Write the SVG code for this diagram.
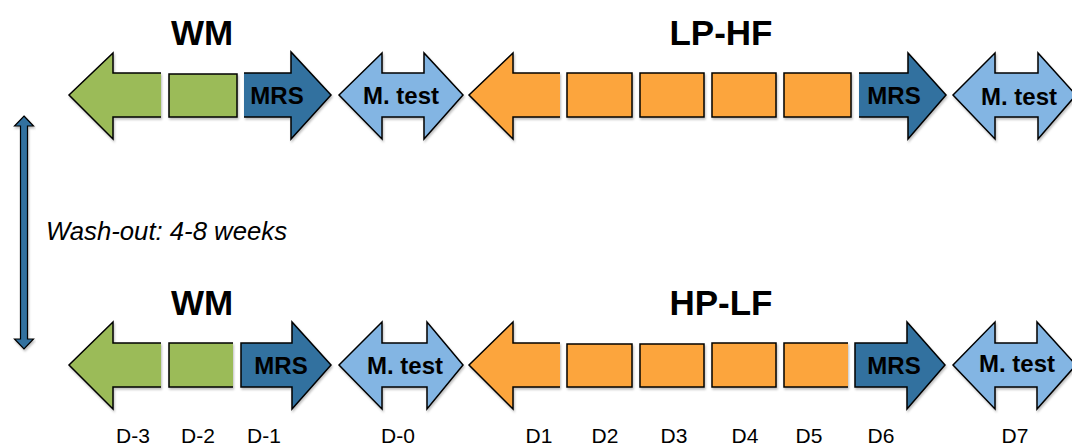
<svg xmlns="http://www.w3.org/2000/svg" width="1072" height="446" viewBox="0 0 1072 446">
<defs>
<filter id="sh" x="-10%" y="-10%" width="120%" height="130%">
<feDropShadow dx="1" dy="2" stdDeviation="1.2" flood-color="#000" flood-opacity="0.25"/>
</filter>
</defs>
<style>
.s{stroke:#000;stroke-width:1.5;stroke-linejoin:miter;filter:url(#sh)}
.g{fill:#9bbb59}
.o{fill:#fca53d}
.d{fill:#31719f}
.l{fill:#83b5e3}
.t{font-family:"Liberation Sans",Arial,sans-serif;font-weight:bold;fill:#000;text-anchor:middle}
.h{font-size:35px}
.b{font-size:24px}
.lab{font-family:"Liberation Sans",Arial,sans-serif;font-size:21px;fill:#000;text-anchor:middle}
.w{font-family:"Liberation Sans",Arial,sans-serif;font-size:25px;font-style:italic;fill:#000}
</style>
<rect width="1072" height="446" fill="#fff"/>

<g id="title-wm-top"><text class="t h" x="202" y="45">WM</text></g>
<g id="title-lphf"><text class="t h" x="721" y="45">LP-HF</text></g>
<g id="title-wm-bottom"><text class="t h" x="202" y="315">WM</text></g>
<g id="title-hplf"><text class="t h" x="721" y="315">HP-LF</text></g>

<!-- top row -->
<g id="top-green-arrow"><path class="s g" d="M161,73 L113,73 L113,53 L69,95 L113,139 L113,117 L161,117"/></g>
<g id="top-green-rect"><rect class="s g" x="169" y="74" width="68" height="43"/></g>
<g id="top-mrs-1"><path class="s d" d="M244,73 L291,73 L291,52 L331,95 L291,139 L291,117 L244,117"/><text class="t b" x="277" y="104">MRS</text></g>
<g id="top-mtest-1"><path class="s l" d="M339,95 L382,53 L382,73 L424,73 L424,53 L463,95 L424,139 L424,117 L382,117 L382,139 Z"/><text class="t b" x="401" y="104">M. test</text></g>
<g id="top-orange-arrow"><path class="s o" d="M560,73 L513,73 L513,53 L469,95 L513,139 L513,117 L560,117"/></g>
<g id="top-orange-1"><rect class="s o" x="567" y="73" width="65" height="44"/></g>
<g id="top-orange-2"><rect class="s o" x="640" y="73" width="64" height="44"/></g>
<g id="top-orange-3"><rect class="s o" x="712" y="73" width="64" height="44"/></g>
<g id="top-orange-4"><rect class="s o" x="784" y="73" width="67" height="44"/></g>
<g id="top-mrs-2"><path class="s d" d="M859,73 L908,73 L908,53 L946,95 L908,139 L908,117 L859,117"/><text class="t b" x="894" y="104">MRS</text></g>
<g id="top-mtest-2"><path class="s l" d="M953,95 L995,53 L995,73 L1038,73 L1038,53 L1076,95 L1038,139 L1038,117 L995,117 L995,139 Z"/><text class="t b" x="1019" y="105">M. test</text></g>

<!-- bottom row -->
<g id="bot-green-arrow"><path class="s g" d="M161,343 L113,343 L113,322 L69,365 L113,409 L113,387 L161,387"/></g>
<g id="bot-green-rect"><path class="s g" d="M233,343 L169,343 L169,387 L233,387"/></g>
<g id="bot-mrs-1"><path class="s d" d="M241,343 L292,343 L292,322 L331,365 L292,409 L292,387 L241,387 Z"/><text class="t b" x="281" y="374">MRS</text></g>
<g id="bot-mtest-1"><path class="s l" d="M339,365 L382,322 L382,343 L427,343 L427,322 L463,365 L427,409 L427,387 L382,387 L382,409 Z"/><text class="t b" x="405" y="374">M. test</text></g>
<g id="bot-orange-arrow"><path class="s o" d="M560,343 L513,343 L513,322 L469,365 L513,409 L513,387 L560,387"/></g>
<g id="bot-orange-1"><rect class="s o" x="567" y="344" width="65" height="43"/></g>
<g id="bot-orange-2"><rect class="s o" x="640" y="344" width="64" height="43"/></g>
<g id="bot-orange-3"><rect class="s o" x="712" y="343" width="64" height="44"/></g>
<g id="bot-orange-4"><path class="s o" d="M848,343 L784,343 L784,387 L848,387"/></g>
<g id="bot-mrs-2"><path class="s d" d="M855,343 L907,343 L907,322 L945,365 L907,409 L907,387 L855,387 Z"/><text class="t b" x="894" y="374">MRS</text></g>
<g id="bot-mtest-2"><path class="s l" d="M953,365 L995,322 L995,343 L1037,343 L1037,322 L1076,365 L1037,409 L1037,387 L995,387 L995,409 Z"/><text class="t b" x="1017" y="372">M. test</text></g>

<!-- connectors -->
<g id="connectors">
<path class="s d" d="M24,116 L33.5,126 L27.5,126 L27.5,339 L33.5,339 L24,349 L14.5,339 L20.5,339 L20.5,126 L14.5,126 Z" style="stroke-width:1.2"/>
</g>
<g id="washout-label"><text class="w" x="46" y="240" textLength="241" lengthAdjust="spacingAndGlyphs">Wash-out: 4-8 weeks</text></g>

<g id="day-labels">
<text class="lab" x="133" y="443">D-3</text>
<text class="lab" x="198" y="443">D-2</text>
<text class="lab" x="264" y="443">D-1</text>
<text class="lab" x="398" y="443">D-0</text>
<text class="lab" x="539" y="443">D1</text>
<text class="lab" x="605" y="443">D2</text>
<text class="lab" x="674" y="443">D3</text>
<text class="lab" x="745" y="443">D4</text>
<text class="lab" x="809" y="443">D5</text>
<text class="lab" x="881" y="443">D6</text>
<text class="lab" x="1015" y="443">D7</text>
</g>
</svg>
